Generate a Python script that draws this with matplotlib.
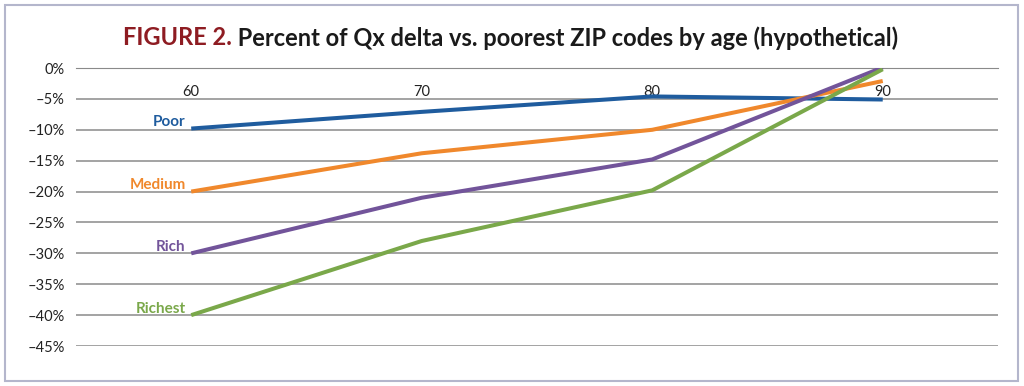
import matplotlib
matplotlib.use("Agg")
from matplotlib import pyplot as plt
from matplotlib.patches import Rectangle
from matplotlib.ticker import FuncFormatter

# data
ages = [60, 70, 80, 90]
poor = [-9.8, -7.1, -4.6, -5.1]
medium = [-20.0, -13.8, -10.0, -2.1]
rich = [-30.0, -21.0, -14.8, 0.1]
richest = [-40.0, -28.0, -19.8, -0.2]
y_ticks = [0, -5, -10, -15, -20, -25, -30, -35, -40, -45]

series = [
    ("Poor", poor, "#1f5c9e"),
    ("Medium", medium, "#f0882c"),
    ("Rich", rich, "#72549a"),
    ("Richest", richest, "#7aa84a"),
]

plt.rcParams['font.family'] = ['Lato', 'DejaVu Sans']

fig = plt.figure(figsize=(10.24, 3.86), dpi=100)
ax = fig.add_axes([0.0742, 0.1036, 0.9004, 0.7202])

for name, vals, color in series:
    ax.plot(ages, vals, color=color, linewidth=2.9, solid_capstyle='butt', zorder=3)
    ax.annotate(name, xy=(ages[0], vals[0]), xytext=(-4, 4.5), textcoords='offset points',
                ha='right', va='center', color=color, fontsize=11, fontweight='bold')

ax.set_xlim(55, 95)
ax.set_ylim(-45, 0)
ax.set_yticks(y_ticks)
ax.yaxis.set_major_formatter(FuncFormatter(lambda v, p: f"{v:.0f}%".replace("-", "\u2013")))
ax.set_xticks(ages)
ax.set_xticklabels([str(a) for a in ages])
ax.grid(axis='y', color='#8a8a8a', linewidth=1.1)
ax.set_axisbelow(True)
for s in ['left', 'right', 'top']:
    ax.spines[s].set_visible(False)
ax.spines['bottom'].set_position(('data', 0))
ax.spines['bottom'].set_color('#8a8a8a')
ax.tick_params(axis='x', length=0, pad=12, labelsize=10.5, colors='#222222')
ax.tick_params(axis='y', length=0, pad=8, labelsize=10.5, colors='#222222')

# title in two colours
t1 = fig.text(0.120, 0.902, "FIGURE 2.", color='#8e1c22', fontsize=17, fontweight='bold',
              ha='left', va='center')
fig.canvas.draw()
ax.annotate(" Percent of Qx delta vs. poorest ZIP codes by age (hypothetical)",
            xy=(1, 0.5), xycoords=t1, va='center', ha='left',
            fontsize=17, fontweight='bold', color='#1a1a1a', annotation_clip=False)

# outer frame
fig.patches.append(Rectangle((5 / 1024, 5 / 386), 1013 / 1024, 376 / 386, transform=fig.transFigure,
                             fill=False, edgecolor='#b4b6cc', linewidth=1.5))

fig.savefig("out.png", dpi=100)
